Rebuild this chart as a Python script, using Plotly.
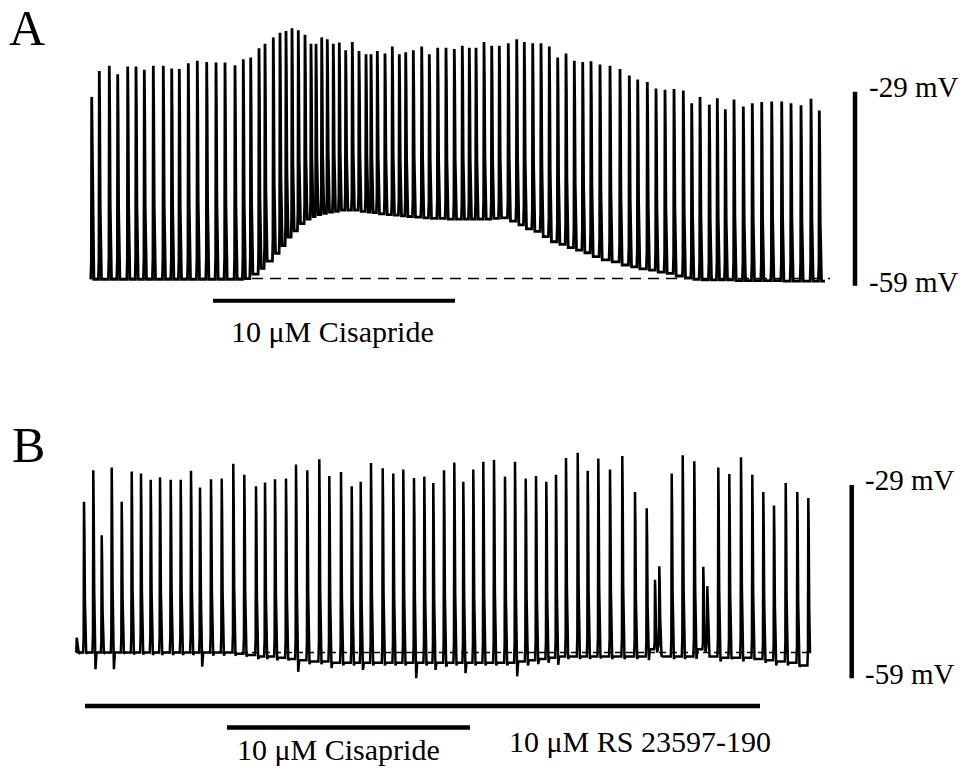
import plotly.graph_objects as go

# ---------------- Panel A data (time in s from trace start, potentials in mV) -------------
A_spike_t = [1.7, 9.3, 19.3, 27.7, 37.7, 46.0, 54.3, 63.3, 73.3, 81.7,
             89.3, 98.3, 107.3, 116.7, 126.0, 135.0, 145.0, 153.3, 160.7, 169.0,
             175.0, 183.3, 190.0, 196.0, 202.0, 208.3, 215.0, 221.0, 226.0, 231.7,
             237.3, 243.3, 249.3, 255.7, 262.3, 269.0, 276.0, 281.0, 287.3, 295.0,
             302.3, 309.3, 315.7, 323.3, 331.7, 339.3, 347.7, 356.0, 364.3, 372.3,
             379.3, 386.0, 394.0, 401.7, 409.3, 418.3, 426.7, 434.3, 442.7, 451.0,
             459.3, 467.7, 476.0, 484.3, 492.7, 501.0, 510.0, 520.0, 530.0, 539.3,
             547.7, 557.3, 566.0, 575.0, 584.0, 593.3, 601.7, 610.0, 619.3, 627.3,
             635.3, 644.0, 653.3, 662.3, 671.7, 681.7, 691.7, 701.0, 711.0, 721.0,
             729.3]
A_peak_mV = [-29.8, -25.8, -25.0, -26.3, -25.1, -25.1, -25.6, -25.0, -25.0, -25.4,
             -25.5, -24.6, -24.2, -24.4, -24.5, -24.5, -24.9, -24.0, -23.7, -22.3,
             -21.6, -20.6, -19.9, -19.6, -19.2, -19.5, -20.2, -21.6, -21.6, -20.6,
             -20.9, -21.6, -21.4, -22.6, -21.3, -22.7, -23.2, -23.2, -22.7, -23.1,
             -22.0, -23.2, -22.9, -22.6, -22.0, -23.2, -22.2, -22.2, -22.4, -21.9,
             -22.2, -22.2, -21.3, -21.9, -21.9, -21.5, -20.9, -21.3, -21.5, -21.5,
             -22.0, -23.7, -23.1, -24.2, -24.4, -24.3, -24.8, -25.0, -25.5, -26.5,
             -27.1, -27.5, -28.5, -28.7, -28.6, -28.8, -30.8, -29.8, -31.0, -30.0,
             -31.7, -30.2, -31.3, -30.8, -30.6, -30.5, -30.5, -30.8, -31.1, -30.1,
             -31.9]
A_rest_mV = [-58.0, -58.0, -58.0, -58.0, -58.0, -58.0, -58.0, -58.0, -58.0, -58.0,
             -58.0, -58.0, -58.0, -58.0, -58.0, -58.0, -58.0, -58.0, -57.9, -57.2,
             -56.3, -55.2, -54.0, -52.8, -51.5, -50.5, -49.4, -48.7, -48.3, -48.0,
             -47.8, -47.6, -47.5, -47.3, -47.3, -47.3, -47.5, -47.6, -47.7, -47.9,
             -48.0, -48.1, -48.2, -48.3, -48.4, -48.5, -48.6, -48.6, -48.7, -48.7,
             -48.7, -48.7, -48.7, -48.7, -48.6, -48.5, -49.0, -49.6, -50.2, -50.6,
             -51.4, -52.2, -52.6, -53.1, -53.5, -53.9, -54.5, -55.0, -55.3, -55.8,
             -56.1, -56.4, -56.6, -56.9, -57.1, -57.5, -57.8, -58.0, -58.1, -58.1,
             -58.1, -58.1, -58.2, -58.2, -58.2, -58.2, -58.2, -58.3, -58.3, -58.3,
             -58.3]
A_end_t = 735.0
A_ref_mV = -57.9                 # dashed reference level
A_ref_span = [0.0, 740.0]
A_cisapride = [123.0, 365.0]     # application window
A_scale_t = 765.0
A_scale_mV = [-29, -59]

# ---------------- Panel B data -------------
B_spike_t = [0.7, 8.0, 17.3, 25.7, 35.7, 45.7, 55.7, 65.0, 74.7, 84.0,
             94.7, 104.7, 115.0, 124.0, 135.0, 145.7, 157.3, 168.3, 180.0, 189.0,
             199.0, 210.0, 220.0, 231.3, 243.3, 253.3, 265.0, 275.7, 284.7, 295.0,
             306.7, 317.3, 327.3, 338.0, 348.3, 357.3, 368.0, 378.3, 387.3, 397.3,
             407.3, 418.0, 429.0, 439.0, 449.7, 460.0, 470.3, 480.0, 490.0, 501.7,
             511.7, 522.3, 534.0, 546.3, 559.0, 570.7, 579.0, 583.3, 595.7, 606.7,
             618.3, 627.3, 631.3, 642.3, 653.3, 665.0, 676.3, 687.3, 698.0, 709.7,
             721.3, 732.3]
B_peak_mV = [-52.7, -31.6, -26.7, -36.8, -26.3, -31.6, -26.9, -27.2, -28.2, -27.8,
             -28.2, -28.2, -26.8, -29.4, -28.1, -28.0, -25.7, -27.4, -29.2, -28.6,
             -28.1, -28.0, -25.8, -26.7, -25.0, -27.6, -27.0, -29.2, -28.5, -25.6,
             -26.4, -27.2, -26.6, -27.9, -27.7, -28.7, -26.7, -25.5, -28.5, -26.6,
             -25.4, -25.1, -27.7, -25.4, -28.0, -27.6, -28.5, -27.4, -24.8, -24.0,
             -26.8, -24.9, -26.6, -24.5, -30.1, -32.6, -43.7, -41.6, -27.2, -24.4,
             -25.3, -41.7, -44.7, -26.3, -27.3, -24.7, -27.4, -30.1, -32.2, -28.7,
             -30.1, -31.0]
B_rest_mV = [-55.0, -55.0, -55.0, -55.0, -55.0, -55.0, -55.0, -55.0, -55.0, -55.0,
             -55.0, -55.0, -55.0, -55.0, -55.0, -55.0, -55.0, -55.2, -55.4, -55.6,
             -55.6, -55.8, -56.0, -56.2, -56.4, -56.4, -56.6, -56.6, -56.6, -56.6,
             -56.6, -56.6, -56.6, -56.6, -56.6, -56.6, -56.6, -56.6, -56.6, -56.6,
             -56.6, -56.6, -56.6, -56.6, -56.4, -56.2, -56.0, -55.8, -55.6, -55.6,
             -55.6, -55.6, -55.6, -55.6, -55.6, -55.6, -54.5, -54.0, -55.6, -55.6,
             -55.6, -54.5, -54.0, -55.6, -55.8, -55.8, -55.8, -56.0, -56.2, -56.4,
             -56.6, -57.0]
B_dip_mV = [-55.2, -55.2, -57.6, -55.2, -57.6, -55.2, -55.3, -55.3, -55.4, -55.4,
            -55.4, -55.4, -55.4, -57.2, -55.5, -55.5, -55.5, -55.6, -56.0, -56.0,
            -56.2, -56.2, -58.0, -56.8, -56.8, -57.4, -57.0, -57.0, -57.7, -57.0,
            -57.0, -57.0, -57.0, -59.0, -57.0, -57.7, -57.2, -57.0, -58.2, -57.0,
            -57.0, -57.0, -57.0, -58.7, -57.0, -56.8, -56.6, -56.9, -56.0, -56.0,
            -56.0, -55.9, -56.0, -56.0, -56.0, -56.2, -55.0, -55.5, -56.0, -56.0,
            -56.0, -55.0, -55.6, -56.4, -56.0, -56.4, -56.0, -56.6, -57.0, -57.0,
            -57.2, -57.2]
B_end_t = 734.0
B_ref_mV = -55.0
B_ref_span = [0.0, 732.0]
B_rs23597 = [9.0, 684.0]
B_cisapride = [151.0, 394.0]
B_scale_t = 775.7
B_scale_mV = [-29, -59]


def spike_train(ts, peaks, rests, dips, t_end):
    """Join per-spike (time, peak, rest, post-spike minimum) readings into one trace."""
    xs, ys = [], []
    n = len(ts)
    for i in range(n):
        t, p, r, d = ts[i], peaks[i], rests[i], dips[i]
        a = p - r
        nxt_rest = rests[i + 1] if i + 1 < n else rests[i]
        nxt_t = ts[i + 1] if i + 1 < n else t_end + 10
        pts = [(-0.9, r), (-0.35, r + 0.10 * a), (0.0, p),
               (0.4, r + 0.80 * a), (0.9, r + 0.35 * a),
               (1.5, d + 0.08 * (p - d)), (2.2, d), (3.2, nxt_rest)]
        for dt, v in pts:
            tt = t + dt
            if dt > 0 and tt >= nxt_t - 0.9:
                break
            if tt > t_end:
                break
            xs.append(tt)
            ys.append(v)
    if xs[-1] < t_end:
        xs.append(t_end)
        ys.append(ys[-1])
    return xs, ys


ax, ay = spike_train(A_spike_t, A_peak_mV, A_rest_mV, A_rest_mV[1:] + A_rest_mV[-1:], A_end_t)
bx, by = spike_train(B_spike_t, B_peak_mV, B_rest_mV, B_dip_mV, B_end_t)

fig = go.Figure()
black = "black"

# reference (dashed) levels
fig.add_trace(go.Scatter(x=A_ref_span, y=[A_ref_mV, A_ref_mV], mode="lines",
                         line=dict(color=black, width=1.5, dash="11px,7px"),
                         xaxis="x", yaxis="y", hoverinfo="skip"))
fig.add_trace(go.Scatter(x=B_ref_span, y=[B_ref_mV, B_ref_mV], mode="lines",
                         line=dict(color=black, width=1.5, dash="7px,4px"),
                         xaxis="x2", yaxis="y2", hoverinfo="skip"))

# membrane potential traces
fig.add_trace(go.Scatter(x=ax, y=ay, mode="lines", line=dict(color=black, width=2.8),
                         xaxis="x", yaxis="y"))
fig.add_trace(go.Scatter(x=bx, y=by, mode="lines", line=dict(color=black, width=2.5),
                         xaxis="x2", yaxis="y2"))

# voltage scale bars
fig.add_trace(go.Scatter(x=[A_scale_t, A_scale_t], y=A_scale_mV, mode="lines",
                         line=dict(color=black, width=4.5), xaxis="x", yaxis="y"))
fig.add_trace(go.Scatter(x=[B_scale_t, B_scale_t], y=B_scale_mV, mode="lines",
                         line=dict(color=black, width=4.5), xaxis="x2", yaxis="y2"))

# drug application bars
shapes = [
    dict(type="line", xref="x", yref="paper", x0=A_cisapride[0], x1=A_cisapride[1],
         y0=0.609, y1=0.609, line=dict(color=black, width=4)),
    dict(type="line", xref="x2", yref="paper", x0=B_rs23597[0], x1=B_rs23597[1],
         y0=0.0819, y1=0.0819, line=dict(color=black, width=4.5)),
    dict(type="line", xref="x2", yref="paper", x0=B_cisapride[0], x1=B_cisapride[1],
         y0=0.0540, y1=0.0540, line=dict(color=black, width=4.5)),
]

serif = "Liberation Serif, Times New Roman, serif"


def txt(text, xref, yref, x, y, size, xanchor="center"):
    return dict(text=text, xref=xref, yref=yref, x=x, y=y, xanchor=xanchor,
                yanchor="middle", showarrow=False,
                font=dict(family=serif, size=size, color=black))


ann = [
    txt("A", "paper", "paper", 0.028, 0.9640, 50),
    txt("B", "paper", "paper", 0.030, 0.4215, 50),
    txt("-29 mV", "x", "y", A_scale_t + 11.7, -28.2, 29, "left"),
    txt("-59 mV", "x", "y", A_scale_t + 11.7, -58.4, 29, "left"),
    txt("-29 mV", "x2", "y2", B_scale_t + 11.6, -28.2, 29, "left"),
    txt("-59 mV", "x2", "y2", B_scale_t + 11.6, -58.4, 29, "left"),
    txt("10 μM Cisapride", "x", "paper", (A_cisapride[0] + A_cisapride[1]) / 2 - 2, 0.5683, 30),
    txt("10 μM Cisapride", "x2", "paper", (B_cisapride[0] + B_cisapride[1]) / 2 - 10, 0.0260, 30),
    txt("10 μM RS 23597-190", "x2", "paper", 564, 0.0364, 30),
]

fig.update_layout(
    width=964, height=769,
    margin=dict(l=0, r=0, t=0, b=0),
    paper_bgcolor="white", plot_bgcolor="white",
    showlegend=False,
    xaxis=dict(range=[-90, 874], visible=False, domain=[0, 1]),
    yaxis=dict(range=[-133.73, -14.82], visible=False, domain=[0, 1]),
    xaxis2=dict(range=[-76, 888], visible=False, overlaying="x", anchor="y2"),
    yaxis2=dict(range=[-73.08, 46.28], visible=False, overlaying="y", anchor="x2"),
    shapes=shapes,
    annotations=ann,
)

fig.write_html("out.html")
